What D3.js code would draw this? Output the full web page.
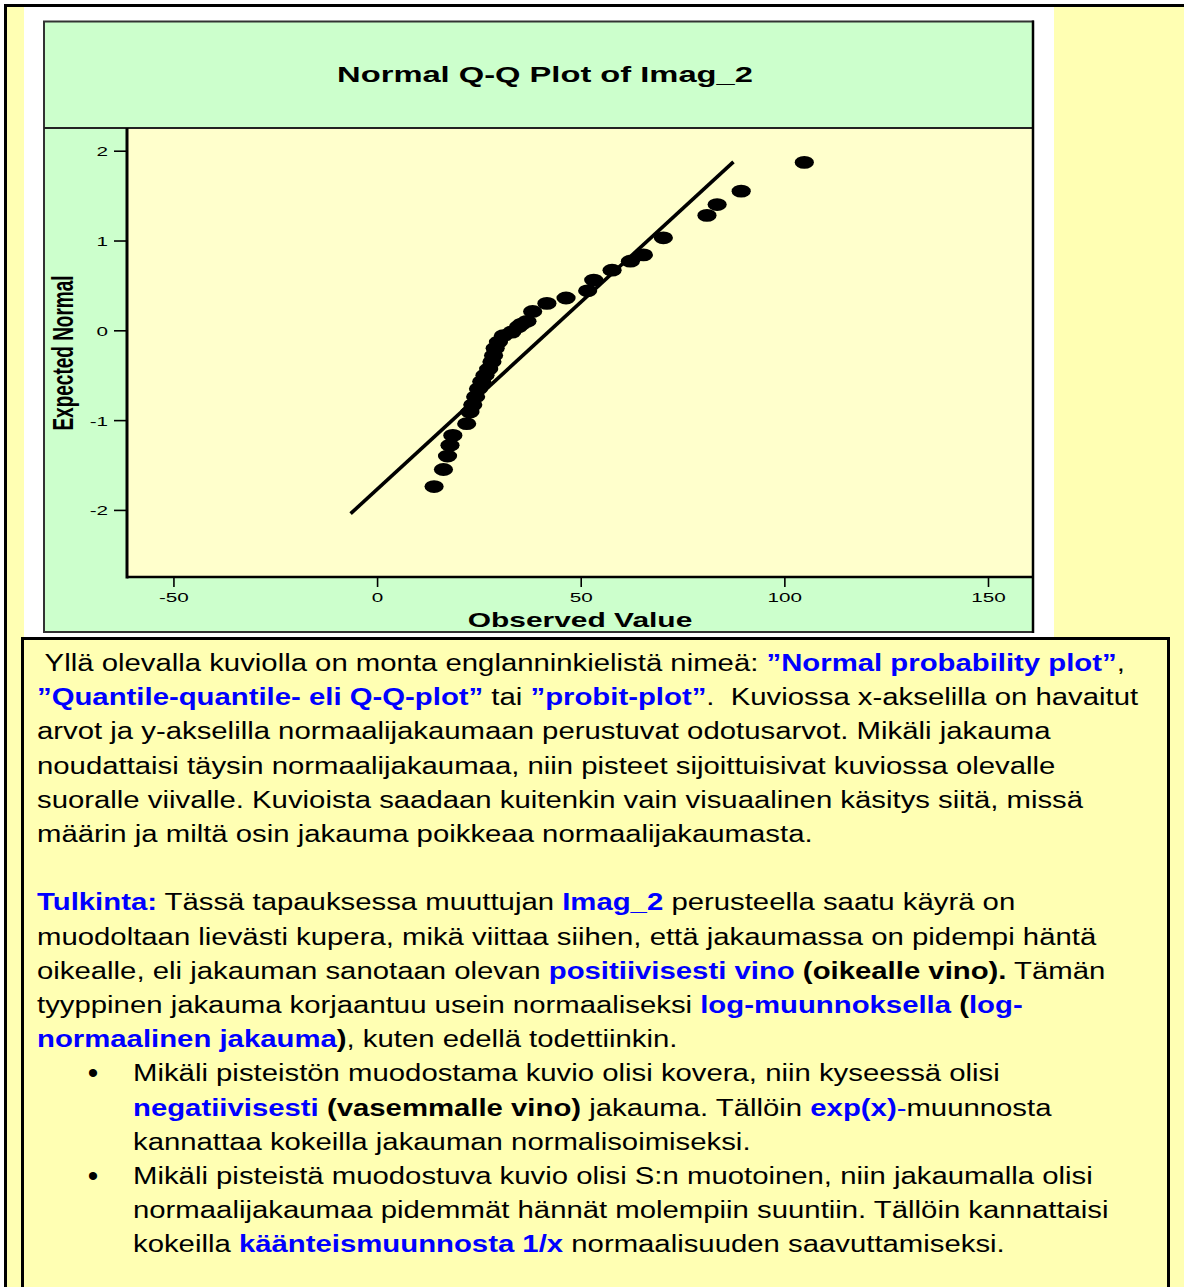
<!DOCTYPE html>
<html>
<head>
<meta charset="utf-8">
<script src="https://cdn.jsdelivr.net/npm/d3@7"></script>
<style>
  body { margin: 0; background: #fff; }
  svg { display: block; }
  text { font-family: "Liberation Sans", Arial, sans-serif; white-space: pre; }
</style>
</head>
<body>
<svg id="page" width="1184" height="1287"></svg>
<script>
// havaitut arvot ja niitä vastaavat odotetut normaalijakauman arvot (luettu kuvasta)
const observedValues = [104.9, 89.4, 83.5, 81.0, 70.3, 65.4, 62.2, 57.7, 53.2, 51.7, 46.4, 41.7,
                        38.2, 36.8, 35.5, 34.7, 33.1, 31.0, 29.8, 29.0, 28.6, 28.2, 27.4, 26.5,
                        25.7, 24.9, 24.2, 23.5, 22.8, 22.0, 18.6, 17.9, 17.3, 16.3, 14.0];
const expectedNormal = [1.87, 1.55, 1.40, 1.28, 1.03, 0.84, 0.77, 0.67, 0.56, 0.44, 0.36, 0.30,
                        0.21, 0.10, 0.07, 0.04, -0.02, -0.06, -0.13, -0.20, -0.28, -0.35, -0.43, -0.50,
                        -0.57, -0.65, -0.74, -0.83, -0.91, -1.04, -1.17, -1.28, -1.40, -1.55, -1.74];

// vertailusuora: odotettu = (x - keskiarvo) / keskihajonta
const refLineX = [-6.5, 87.5];
const refMean = 42.5;
const refSd = 24.0;

const xTicks = [-50, 0, 50, 100, 150];
const yTicks = [-2, -1, 0, 1, 2];
const xDomain = [-61.4, 161.05];
const yDomain = [-2.747, 2.253];

const chartTitle = "Normal Q-Q Plot of Imag_2";
const xTitle = "Observed Value";
const yTitle = "Expected Normal";

// tekstin rivit: n = normaali, b = lihavoitu sininen, k = lihavoitu musta, u = sininen
const bodyLines = [
  {segs: [[" Yllä olevalla kuviolla on monta englanninkielistä nimeä: ", "n"], ["”Normal probability plot”", "b"], [",", "n"]]},
  {segs: [["”Quantile-quantile- eli Q-Q-plot”", "b"], [" tai ", "n"], ["”probit-plot”", "b"], [".  Kuviossa x-akselilla on havaitut", "n"]]},
  {segs: [["arvot ja y-akselilla normaalijakaumaan perustuvat odotusarvot. Mikäli jakauma", "n"]]},
  {segs: [["noudattaisi täysin normaalijakaumaa, niin pisteet sijoittuisivat kuviossa olevalle", "n"]]},
  {segs: [["suoralle viivalle. Kuvioista saadaan kuitenkin vain visuaalinen käsitys siitä, missä", "n"]]},
  {segs: [["määrin ja miltä osin jakauma poikkeaa normaalijakaumasta.", "n"]]},
  {segs: []},
  {segs: [["Tulkinta:", "b"], [" Tässä tapauksessa muuttujan ", "n"], ["Imag_2", "b"], [" perusteella saatu käyrä on", "n"]]},
  {segs: [["muodoltaan lievästi kupera, mikä viittaa siihen, että jakaumassa on pidempi häntä", "n"]]},
  {segs: [["oikealle, eli jakauman sanotaan olevan ", "n"], ["positiivisesti vino", "b"], [" ", "n"], ["(oikealle vino).", "k"], [" Tämän", "n"]]},
  {segs: [["tyyppinen jakauma korjaantuu usein normaaliseksi ", "n"], ["log-muunnoksella", "b"], [" ", "n"], ["(", "k"], ["log-", "b"]]},
  {segs: [["normaalinen jakauma", "b"], [")", "k"], [", kuten edellä todettiinkin.", "n"]]},
  {bullet: true, segs: [["Mikäli pisteistön muodostama kuvio olisi kovera, niin kyseessä olisi", "n"]]},
  {hang: true, segs: [["negatiivisesti", "b"], [" ", "n"], ["(vasemmalle vino)", "k"], [" jakauma. Tällöin ", "n"], ["exp(x)", "b"], ["-", "u"], ["muunnosta", "n"]]},
  {hang: true, segs: [["kannattaa kokeilla jakauman normalisoimiseksi.", "n"]]},
  {bullet: true, segs: [["Mikäli pisteistä muodostuva kuvio olisi S:n muotoinen, niin jakaumalla olisi", "n"]]},
  {hang: true, segs: [["normaalijakaumaa pidemmät hännät molempiin suuntiin. Tällöin kannattaisi", "n"]]},
  {hang: true, segs: [["kokeilla ", "n"], ["käänteismuunnosta 1/x", "b"], [" normaalisuuden saavuttamiseksi.", "n"]]}
];

// kaavion kuva on venytetty vaakasuunnassa, joten sen tekstit venytetään samalla kertoimella
const SX = 1.52;
const SX_BODY = 1.275;
const BODY_SIZE = 23;
const YELLOW = "#FFFFB3";
const GREEN = "#CCFFCC";
const PLOT_BG = "#FFFFCC";
const BLUE = "#0000FF";

const svg = d3.select("#page");

// sivun taustat ja kehykset
svg.append("rect").attr("width", 1184).attr("height", 1287).attr("fill", "#fff");
svg.append("rect").attr("x", 7).attr("y", 7).attr("width", 1177).attr("height", 1280).attr("fill", YELLOW);
svg.append("rect").attr("x", 24).attr("y", 7).attr("width", 1030).attr("height", 631).attr("fill", "#fff");
svg.append("line").attr("x1", 4).attr("x2", 1184).attr("y1", 5.5).attr("y2", 5.5)
   .attr("stroke", "#000").attr("stroke-width", 3);
svg.append("line").attr("x1", 5.5).attr("x2", 5.5).attr("y1", 4).attr("y2", 1287)
   .attr("stroke", "#000").attr("stroke-width", 3);

// kaavion alue
const area = {left: 127, right: 1033, top: 128, bottom: 577, boxLeft: 44, boxTop: 21.5, boxBottom: 632};

svg.append("rect")
   .attr("x", area.boxLeft).attr("y", area.boxTop)
   .attr("width", area.right - area.boxLeft).attr("height", area.boxBottom - area.boxTop)
   .attr("fill", GREEN).attr("stroke", "#333").attr("stroke-width", 2);
svg.append("rect")
   .attr("x", area.left).attr("y", area.top)
   .attr("width", area.right - area.left).attr("height", area.bottom - area.top)
   .attr("fill", PLOT_BG);
svg.append("line").attr("x1", area.boxLeft).attr("x2", area.right).attr("y1", area.top).attr("y2", area.top)
   .attr("stroke", "#222").attr("stroke-width", 2);

let scaleX = d3.scaleLinear().domain(xDomain).range([area.left, area.right]);
let scaleY = d3.scaleLinear().domain(yDomain).range([area.bottom, area.top]);

// akselit
let axisY = d3.axisLeft(scaleY).tickValues(yTicks).tickSize(13).tickSizeOuter(0).tickFormat(d3.format("d"));
let gY = svg.append("g").attr("transform", `translate(${area.left}, 0)`).call(axisY);
gY.select(".domain").remove();
gY.selectAll("line").attr("stroke", "#000").attr("stroke-width", 1.6);
gY.selectAll("text")
   .attr("x", null).attr("dy", "0.36em")
   .attr("transform", `translate(-19, 0) scale(${SX}, 1)`)
   .style("font-size", "13.6px").attr("fill", "#000")
   .text(d => d < 0 ? "-" + Math.abs(d) : d);

let axisX = d3.axisBottom(scaleX).tickValues(xTicks).tickSize(10).tickSizeOuter(0).tickFormat(d3.format("d"));
let gX = svg.append("g").attr("transform", `translate(0, ${area.bottom})`).call(axisX);
gX.select(".domain").remove();
gX.selectAll("line").attr("stroke", "#000").attr("stroke-width", 1.6);
gX.selectAll("text")
   .attr("y", null).attr("dy", null)
   .attr("transform", `translate(0, 25) scale(${SX}, 1)`)
   .style("font-size", "13.6px").attr("fill", "#000")
   .text(d => d < 0 ? "-" + Math.abs(d) : d);

// piirtoalueen reunat
svg.append("line").attr("x1", area.left).attr("x2", area.left).attr("y1", area.top).attr("y2", area.bottom + 1.5)
   .attr("stroke", "#000").attr("stroke-width", 3);
svg.append("line").attr("x1", area.left).attr("x2", area.right).attr("y1", area.bottom).attr("y2", area.bottom)
   .attr("stroke", "#000").attr("stroke-width", 2.5);
svg.append("line").attr("x1", area.right).attr("x2", area.right).attr("y1", area.boxTop - 1).attr("y2", area.boxBottom + 1)
   .attr("stroke", "#000").attr("stroke-width", 2.5);

// vertailusuora
svg.append("line")
   .attr("x1", scaleX(refLineX[0])).attr("y1", scaleY((refLineX[0] - refMean) / refSd))
   .attr("x2", scaleX(refLineX[1])).attr("y2", scaleY((refLineX[1] - refMean) / refSd))
   .attr("stroke", "#000").attr("stroke-width", 3.6);

// pisteet (ympyrät venytettyinä ellipseiksi)
const points = observedValues.map((v, i) => ({obs: v, exp: expectedNormal[i]}));
svg.selectAll(".dot")
   .data(points)
   .enter()
   .append("ellipse")
   .attr("class", "dot")
   .attr("cx", d => scaleX(d.obs))
   .attr("cy", d => scaleY(d.exp))
   .attr("rx", 9.6)
   .attr("ry", 6.4)
   .attr("fill", "#000");

// otsikot
function stretchedText(x, y, str, size, anchor, rotate) {
    let g = svg.append("g").attr("transform", `translate(${x}, ${y}) scale(${SX}, 1)` + (rotate ? " rotate(-90)" : ""));
    g.append("text")
     .attr("text-anchor", anchor)
     .style("font-size", size + "px")
     .style("font-weight", "bold")
     .attr("fill", "#000")
     .text(str);
}
stretchedText(545, 82, chartTitle, 21.5, "middle");
stretchedText((area.left + area.right) / 2, 627, xTitle, 19.7, "middle");
stretchedText(73, 353, yTitle, 19, "middle", true);

// selitysteksti laatikossa
svg.append("rect")
   .attr("x", 22.5).attr("y", 638.5).attr("width", 1146).attr("height", 700)
   .attr("fill", YELLOW).attr("stroke", "#000").attr("stroke-width", 3);

const styleOf = {
    n: {w: "normal", c: "#000"},
    b: {w: "bold", c: BLUE},
    k: {w: "bold", c: "#000"},
    u: {w: "normal", c: BLUE}
};

bodyLines.forEach((line, i) => {
    const baseline = 671 + i * 34.2;
    const x0 = (line.bullet || line.hang) ? 133 : 37;
    if (line.bullet) {
        svg.append("g").attr("transform", `translate(93, ${baseline + 2})`)
           .append("text").attr("text-anchor", "middle").style("font-size", "30px").text("•");
    }
    let t = svg.append("g").attr("transform", `translate(${x0}, ${baseline}) scale(${SX_BODY}, 1)`)
               .append("text").attr("xml:space", "preserve").style("font-size", BODY_SIZE + "px");
    line.segs.forEach(s => {
        t.append("tspan")
         .style("font-weight", styleOf[s[1]].w)
         .attr("fill", styleOf[s[1]].c)
         .text(s[0]);
    });
});
</script>
</body>
</html>
